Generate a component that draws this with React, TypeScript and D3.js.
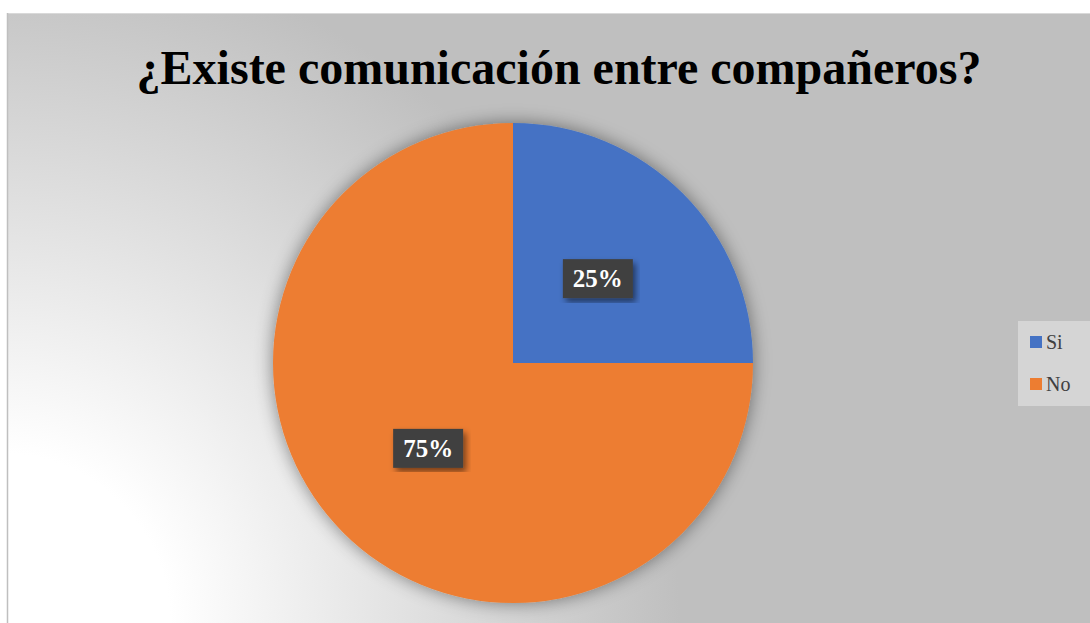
import React, { useRef, useEffect } from "react";
import * as d3 from "d3";

const categories = ["Si", "No"];
const values = [25, 75];
const colors = ["#4472c4", "#ed7d31"];
const title = "¿Existe comunicación entre compañeros?";

const W = 1090;
const H = 623;
const SERIF = "Liberation Serif";

const App: React.FC = () => {
    const svgRef = useRef<SVGSVGElement | null>(null);

    useEffect(() => {
        const svg = d3.select(svgRef.current);
        svg.selectAll("*").remove();
        svg.attr("width", W).attr("height", H);

        const defs = svg.append("defs");
        const grad = defs
            .append("radialGradient")
            .attr("id", "bg")
            .attr("gradientUnits", "userSpaceOnUse")
            .attr("cx", 0)
            .attr("cy", H)
            .attr("r", 680);
        grad.append("stop").attr("offset", "0").attr("stop-color", "#ffffff");
        grad.append("stop").attr("offset", "0.25").attr("stop-color", "#ffffff");
        grad.append("stop").attr("offset", "1").attr("stop-color", "#bfbfbf");

        const pieShadow = defs
            .append("filter")
            .attr("id", "pieShadow")
            .attr("x", "-20%")
            .attr("y", "-20%")
            .attr("width", "140%")
            .attr("height", "140%");
        pieShadow
            .append("feDropShadow")
            .attr("dx", 0)
            .attr("dy", 0)
            .attr("stdDeviation", 9)
            .attr("flood-color", "#000")
            .attr("flood-opacity", 0.45);

        const boxShadow = defs.append("filter").attr("id", "boxShadow");
        boxShadow
            .append("feDropShadow")
            .attr("dx", 3)
            .attr("dy", 4)
            .attr("stdDeviation", 3)
            .attr("flood-color", "#000")
            .attr("flood-opacity", 0.5);

        // chart area
        svg.append("rect")
            .attr("x", 7)
            .attr("y", 13)
            .attr("width", W - 7)
            .attr("height", H - 13)
            .attr("fill", "url(#bg)");
        svg.append("line")
            .attr("x1", 7).attr("x2", W)
            .attr("y1", 13.5).attr("y2", 13.5)
            .attr("stroke", "#d9d9d9");
        svg.append("line")
            .attr("x1", 7.5).attr("x2", 7.5)
            .attr("y1", 13).attr("y2", H)
            .attr("stroke", "#bfbfbf")
            .attr("stroke-width", 1.5);

        svg.append("text")
            .attr("x", 559)
            .attr("y", 84)
            .attr("text-anchor", "middle")
            .style("font-family", SERIF)
            .style("font-weight", "bold")
            .style("font-size", "48px")
            .attr("fill", "#000")
            .text(title);

        const cx = 513;
        const cy = 363;
        const r = 240;
        const data = categories.map((c, i) => ({ cat: c, value: values[i], color: colors[i] }));
        const pie = d3.pie<any>().value((d) => d.value).sort(null);
        const arcs = pie(data);
        const arc = d3.arc<any>().innerRadius(0).outerRadius(r);
        const labelArc = d3.arc<any>().innerRadius(r / 2).outerRadius(r / 2);

        const g = svg.append("g").attr("transform", `translate(${cx},${cy})`);
        g.append("g")
            .attr("filter", "url(#pieShadow)")
            .selectAll("path")
            .data(arcs)
            .join("path")
            .attr("d", arc)
            .attr("fill", (d) => d.data.color);

        const labels = g
            .selectAll("g.lbl")
            .data(arcs)
            .join("g")
            .attr("class", "lbl")
            .attr("transform", (d) => `translate(${labelArc.centroid(d)})`);
        labels
            .append("rect")
            .attr("x", -35)
            .attr("y", -19)
            .attr("width", 70)
            .attr("height", 39)
            .attr("fill", "#404040")
            .attr("filter", "url(#boxShadow)");
        labels
            .append("text")
            .attr("text-anchor", "middle")
            .attr("y", 9)
            .style("font-family", SERIF)
            .style("font-weight", "bold")
            .style("font-size", "25px")
            .attr("fill", "#fff")
            .text((d) => `${d.data.value}%`);

        // legend
        const lg = svg.append("g");
        lg.append("rect")
            .attr("x", 1018)
            .attr("y", 321)
            .attr("width", 80)
            .attr("height", 85)
            .attr("fill", "#d5d5d5");
        const items = lg
            .selectAll("g.item")
            .data(data)
            .join("g")
            .attr("class", "item")
            .attr("transform", (_, i) => `translate(1030,${336 + i * 42})`);
        items
            .append("rect")
            .attr("width", 12)
            .attr("height", 12)
            .attr("fill", (d) => d.color);
        items
            .append("text")
            .attr("x", 16)
            .attr("y", 13)
            .style("font-family", SERIF)
            .style("font-size", "20px")
            .attr("fill", "#404040")
            .text((d) => d.cat);

        return () => {
            svg.selectAll("*").remove();
        };
    }, []);

    return (
        <svg
            ref={svgRef}
            style={{ position: "absolute", left: 0, top: 0, display: "block" }}
        ></svg>
    );
};

export default App;
